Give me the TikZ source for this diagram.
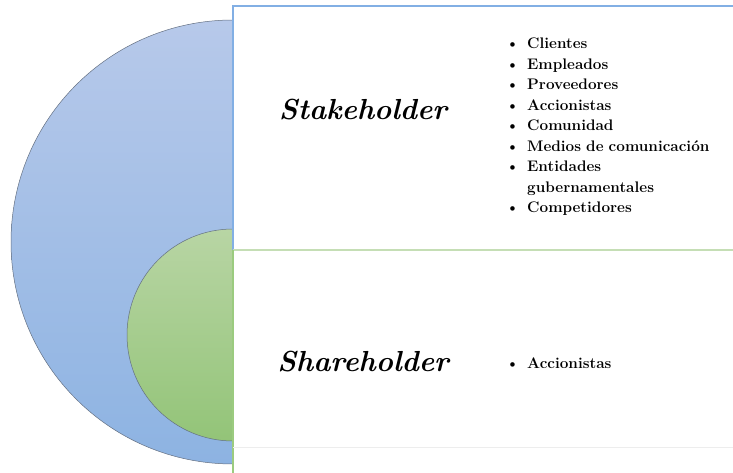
\documentclass[tikz,border=0pt]{standalone}
\usepackage{enumitem}
\definecolor{shbluetop}{RGB}{183,201,234}
\definecolor{shbluebot}{RGB}{141,179,226}
\definecolor{shgreentop}{RGB}{184,213,164}
\definecolor{shgreenbot}{RGB}{147,196,120}
\definecolor{shoutline}{RGB}{100,112,130}
\definecolor{shboxblue}{RGB}{130,175,228}
\definecolor{shboxgreen}{RGB}{155,203,127}
\definecolor{shdivgreen}{RGB}{197,222,181}
\usetikzlibrary{positioning}

\tikzset{
  headtext/.style={font=\fontsize{29}{32}\selectfont\bfseries\itshape},
  listtext/.style={font=\fontsize{15.3}{20.5}\selectfont\bfseries,text width=220pt,inner sep=0pt},
}
\setlist[itemize]{label=\textbullet,leftmargin=19pt,labelsep=8pt,itemsep=0pt,parsep=0pt,topsep=0pt,partopsep=0pt}

\begin{document}
\begin{tikzpicture}[x=1pt,y=1pt]
  \useasboundingbox (0,0) rectangle (733,473);
  % outer and inner half discs
  \path[top color=shbluetop,bottom color=shbluebot,draw=shoutline,line width=0.5pt]
    (233,453) arc[start angle=90,end angle=270,radius=222] -- cycle;
  \path[top color=shgreentop,bottom color=shgreenbot,draw=shoutline,line width=0.5pt]
    (233,244) arc[start angle=90,end angle=270,radius=106] -- cycle;
  % text panels
  \fill[white] (233,26) rectangle (733,467);
  \draw[shboxblue,line width=1.3pt] (233,223) -- (233,467) -- (733,467);
  \draw[shdivgreen,line width=1.3pt] (233,223) -- (733,223);
  \draw[shboxgreen,line width=1.3pt] (233,0) -- (233,223);
  \draw[black!7] (233,26) -- (733,26);
  % labels
  \node[headtext] (stake) at (363,363) {Stakeholder};
  \node[headtext] (share) at (363,111) {Shareholder};
  \node[listtext,anchor=north west] (stakelist) at (508,445) {%
    \begin{itemize}
      \item Clientes
      \item Empleados
      \item Proveedores
      \item Accionistas
      \item Comunidad
      \item Medios de comunicación
      \item Entidades\\ gubernamentales
      \item Competidores
    \end{itemize}};
  \node[listtext,anchor=west] (sharelist) at (508,115) {%
    \begin{itemize}
      \item Accionistas
    \end{itemize}};
\end{tikzpicture}
\end{document}
